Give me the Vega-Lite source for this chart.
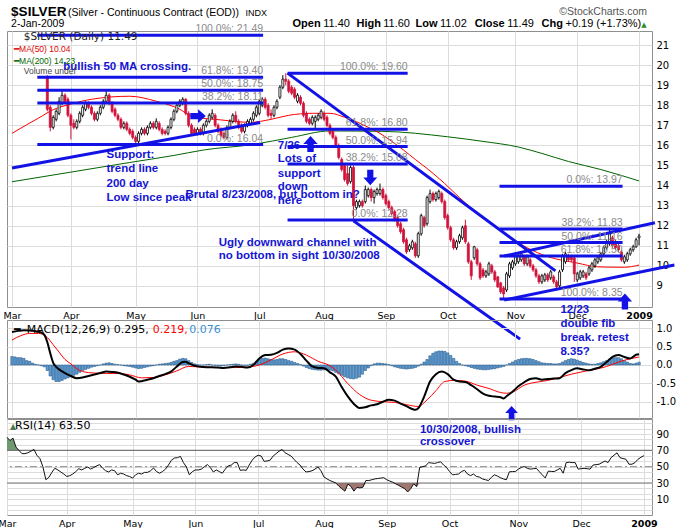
{
  "$schema": "https://vega.github.io/schema/vega-lite/v6.json",
  "background": "white",
  "padding": {"left": -3, "top": 4, "right": 0, "bottom": 0},
  "config": {
    "view": {"stroke": "#8f8f8f", "strokeWidth": 1},
    "axis": {"gridColor": "#dcdcdc", "gridWidth": 1, "labelColor": "#000000", "ticks": false, "domain": false, "labelFont": "DejaVu Sans", "labelOverlap": false},
    "axisY": {"labelOverlap": false},
    "axisRight": {"labelOverlap": false}
  },
  "datasets": {
    "candles": [
      {"i":12,"o":19.4,"h":19.5,"l":17.7,"c":17.8},{"i":13,"o":17.9,"h":18.0,"l":16.7,"c":16.9},{"i":14,"o":16.9,"h":17.5,"l":16.8,"c":17.4},{"i":15,"o":17.3,"h":17.8,"l":17.2,"c":17.7},{"i":16,"o":17.6,"h":18.4,"l":17.5,"c":18.2},{"i":17,"o":18.1,"h":18.7,"l":18.0,"c":18.5},{"i":18,"o":18.5,"h":18.6,"l":18.1,"c":18.2},{"i":19,"o":18.3,"h":18.4,"l":17.4,"c":17.5},{"i":20,"o":17.5,"h":17.6,"l":16.3,"c":17.0},{"i":21,"o":17.1,"h":17.3,"l":16.8,"c":16.9},
      {"i":22,"o":16.9,"h":17.3,"l":16.8,"c":17.2},{"i":23,"o":17.2,"h":17.7,"l":17.1,"c":17.6},{"i":24,"o":17.5,"h":18.0,"l":17.4,"c":17.9},{"i":25,"o":17.8,"h":18.2,"l":17.7,"c":18.1},{"i":26,"o":18.1,"h":18.2,"l":17.8,"c":17.9},{"i":27,"o":17.9,"h":18.0,"l":17.5,"c":17.6},{"i":28,"o":17.6,"h":17.7,"l":17.2,"c":17.3},{"i":29,"o":17.3,"h":17.7,"l":17.2,"c":17.6},{"i":30,"o":17.6,"h":18.0,"l":17.5,"c":17.9},{"i":31,"o":17.9,"h":18.3,"l":17.8,"c":18.2},
      {"i":32,"o":18.2,"h":18.7,"l":18.1,"c":18.5},{"i":33,"o":18.5,"h":18.6,"l":18.0,"c":18.1},{"i":34,"o":18.1,"h":18.2,"l":17.6,"c":17.7},{"i":35,"o":17.8,"h":17.9,"l":17.4,"c":17.5},{"i":36,"o":17.5,"h":17.6,"l":17.2,"c":17.3},{"i":37,"o":17.3,"h":17.4,"l":16.8,"c":16.9},{"i":38,"o":16.9,"h":17.2,"l":16.8,"c":17.1},{"i":39,"o":17.1,"h":17.2,"l":16.7,"c":16.8},{"i":40,"o":16.8,"h":16.9,"l":16.5,"c":16.6},{"i":41,"o":16.7,"h":16.8,"l":16.3,"c":16.4},
      {"i":42,"o":16.4,"h":16.5,"l":16.04,"c":16.2},{"i":43,"o":16.2,"h":16.7,"l":16.1,"c":16.6},{"i":44,"o":16.6,"h":16.9,"l":16.5,"c":16.8},{"i":45,"o":16.8,"h":16.9,"l":16.5,"c":16.6},{"i":46,"o":16.6,"h":17.0,"l":16.5,"c":16.9},{"i":47,"o":16.9,"h":17.2,"l":16.8,"c":17.1},{"i":48,"o":17.1,"h":17.2,"l":16.8,"c":16.9},{"i":49,"o":16.9,"h":17.35,"l":16.8,"c":17.2},{"i":50,"o":17.1,"h":17.2,"l":16.7,"c":16.8},{"i":51,"o":16.8,"h":16.9,"l":16.5,"c":16.6},
      {"i":52,"o":16.7,"h":16.8,"l":16.5,"c":16.6},{"i":53,"o":16.6,"h":17.0,"l":16.5,"c":16.9},{"i":54,"o":16.9,"h":17.4,"l":16.8,"c":17.3},{"i":55,"o":17.3,"h":17.8,"l":17.2,"c":17.7},{"i":56,"o":17.7,"h":18.1,"l":17.6,"c":18.0},{"i":57,"o":18.0,"h":18.3,"l":17.9,"c":18.2},{"i":58,"o":18.1,"h":18.4,"l":18.0,"c":18.3},{"i":59,"o":18.3,"h":18.35,"l":17.5,"c":17.6},{"i":60,"o":17.6,"h":17.7,"l":16.9,"c":17.0},{"i":61,"o":17.0,"h":17.1,"l":16.5,"c":16.6},
      {"i":62,"o":16.8,"h":16.9,"l":16.5,"c":16.6},{"i":63,"o":16.6,"h":16.9,"l":16.5,"c":16.8},{"i":64,"o":16.8,"h":16.9,"l":16.5,"c":16.6},{"i":65,"o":16.6,"h":17.1,"l":16.5,"c":17.0},{"i":66,"o":17.0,"h":17.3,"l":16.9,"c":17.2},{"i":67,"o":17.2,"h":17.6,"l":17.1,"c":17.5},{"i":68,"o":17.4,"h":17.8,"l":17.3,"c":17.6},{"i":69,"o":17.5,"h":17.6,"l":16.9,"c":17.0},{"i":70,"o":17.0,"h":17.1,"l":16.6,"c":16.7},{"i":71,"o":16.8,"h":16.9,"l":16.4,"c":16.5},
      {"i":72,"o":16.6,"h":16.7,"l":16.3,"c":16.4},{"i":73,"o":16.4,"h":17.0,"l":16.3,"c":16.9},{"i":74,"o":16.9,"h":17.3,"l":16.8,"c":17.2},{"i":75,"o":17.2,"h":17.6,"l":17.1,"c":17.5},{"i":76,"o":17.5,"h":17.7,"l":17.1,"c":17.2},{"i":77,"o":17.2,"h":17.3,"l":16.8,"c":16.9},{"i":78,"o":17.0,"h":17.1,"l":16.6,"c":16.7},{"i":79,"o":16.7,"h":17.1,"l":16.6,"c":17.0},{"i":80,"o":17.0,"h":17.3,"l":16.9,"c":17.2},{"i":81,"o":17.1,"h":17.4,"l":17.0,"c":17.3},
      {"i":82,"o":17.3,"h":17.7,"l":17.2,"c":17.6},{"i":83,"o":17.5,"h":18.0,"l":17.4,"c":17.9},{"i":84,"o":17.6,"h":18.3,"l":17.5,"c":18.2},{"i":85,"o":18.0,"h":18.4,"l":17.9,"c":18.3},{"i":86,"o":18.3,"h":18.4,"l":17.8,"c":17.9},{"i":87,"o":18.0,"h":18.1,"l":17.4,"c":17.5},{"i":88,"o":17.6,"h":17.8,"l":17.3,"c":17.5},{"i":89,"o":17.5,"h":18.0,"l":17.4,"c":17.9},{"i":90,"o":17.9,"h":18.3,"l":17.8,"c":18.2},{"i":91,"o":18.4,"h":19.0,"l":18.3,"c":18.9},
      {"i":92,"o":18.9,"h":19.5,"l":18.8,"c":19.3},{"i":93,"o":19.3,"h":19.6,"l":19.0,"c":19.2},{"i":94,"o":19.2,"h":19.3,"l":18.6,"c":18.7},{"i":95,"o":18.9,"h":19.0,"l":18.5,"c":18.6},{"i":96,"o":18.8,"h":18.9,"l":18.3,"c":18.4},{"i":97,"o":18.2,"h":18.6,"l":18.1,"c":18.5},{"i":98,"o":18.4,"h":18.5,"l":18.0,"c":18.1},{"i":99,"o":18.1,"h":18.2,"l":17.4,"c":17.5},{"i":100,"o":17.6,"h":17.7,"l":17.1,"c":17.2},{"i":101,"o":17.3,"h":17.4,"l":17.0,"c":17.1},
      {"i":102,"o":17.1,"h":17.5,"l":17.0,"c":17.4},{"i":103,"o":17.2,"h":17.5,"l":16.87,"c":17.4},{"i":104,"o":17.3,"h":17.6,"l":17.2,"c":17.5},{"i":105,"o":17.4,"h":17.8,"l":17.3,"c":17.7},{"i":106,"o":17.6,"h":17.7,"l":17.2,"c":17.3},{"i":107,"o":17.4,"h":17.5,"l":16.9,"c":17.0},{"i":108,"o":17.0,"h":17.1,"l":16.5,"c":16.6},{"i":109,"o":16.7,"h":16.8,"l":16.3,"c":16.4},{"i":110,"o":16.4,"h":16.5,"l":15.9,"c":16.0},{"i":111,"o":16.0,"h":16.1,"l":15.3,"c":15.4},
      {"i":112,"o":15.3,"h":15.4,"l":14.7,"c":14.8},{"i":113,"o":15.0,"h":15.1,"l":14.2,"c":14.3},{"i":114,"o":14.6,"h":15.0,"l":14.0,"c":14.1},{"i":115,"o":14.2,"h":15.0,"l":14.1,"c":14.9},{"i":116,"o":14.9,"h":15.0,"l":12.28,"c":13.0},{"i":117,"o":12.9,"h":13.3,"l":12.8,"c":13.2},{"i":118,"o":13.0,"h":13.3,"l":12.9,"c":13.2},{"i":119,"o":13.2,"h":13.3,"l":12.9,"c":13.0},{"i":120,"o":13.2,"h":14.0,"l":13.1,"c":13.8},{"i":121,"o":13.5,"h":13.9,"l":13.4,"c":13.8},
      {"i":122,"o":13.8,"h":13.9,"l":13.2,"c":13.4},{"i":123,"o":13.4,"h":13.8,"l":13.1,"c":13.7},{"i":124,"o":13.6,"h":13.9,"l":13.5,"c":13.8},{"i":125,"o":13.6,"h":14.1,"l":13.5,"c":13.8},{"i":126,"o":13.8,"h":13.9,"l":13.3,"c":13.4},{"i":127,"o":13.5,"h":13.6,"l":13.0,"c":13.1},{"i":128,"o":13.2,"h":13.3,"l":12.8,"c":12.9},{"i":129,"o":12.9,"h":13.0,"l":12.5,"c":12.6},{"i":130,"o":12.7,"h":12.8,"l":12.2,"c":12.3},{"i":131,"o":12.4,"h":12.5,"l":11.9,"c":12.0},
      {"i":132,"o":12.1,"h":12.2,"l":11.6,"c":11.7},{"i":133,"o":11.8,"h":11.9,"l":11.1,"c":11.2},{"i":134,"o":11.3,"h":11.4,"l":10.6,"c":10.7},{"i":135,"o":10.8,"h":11.1,"l":10.7,"c":11.0},{"i":136,"o":10.9,"h":11.3,"l":10.8,"c":11.2},{"i":137,"o":11.1,"h":11.2,"l":10.4,"c":10.5},{"i":138,"o":10.5,"h":11.7,"l":10.4,"c":11.6},{"i":139,"o":11.6,"h":12.6,"l":11.5,"c":12.5},{"i":140,"o":12.4,"h":12.5,"l":11.9,"c":12.0},{"i":141,"o":12.1,"h":13.5,"l":12.0,"c":13.4},
      {"i":142,"o":13.2,"h":13.8,"l":13.1,"c":13.6},{"i":143,"o":13.6,"h":13.7,"l":13.2,"c":13.3},{"i":144,"o":13.3,"h":13.7,"l":13.2,"c":13.6},{"i":145,"o":13.4,"h":13.8,"l":13.3,"c":13.7},{"i":146,"o":13.6,"h":13.7,"l":13.1,"c":13.2},{"i":147,"o":13.2,"h":13.3,"l":12.3,"c":12.4},{"i":148,"o":12.5,"h":12.6,"l":11.8,"c":11.9},{"i":149,"o":11.9,"h":12.0,"l":11.2,"c":11.3},{"i":150,"o":11.3,"h":11.4,"l":10.8,"c":10.9},{"i":151,"o":10.9,"h":11.3,"l":10.8,"c":11.2},
      {"i":152,"o":11.2,"h":11.6,"l":11.1,"c":11.5},{"i":153,"o":11.4,"h":12.0,"l":11.3,"c":11.9},{"i":154,"o":12.0,"h":12.3,"l":11.1,"c":11.2},{"i":155,"o":11.1,"h":11.2,"l":10.1,"c":10.2},{"i":156,"o":10.2,"h":10.3,"l":9.3,"c":9.5},{"i":157,"o":10.4,"h":11.0,"l":10.3,"c":10.95},{"i":158,"o":10.8,"h":10.9,"l":10.0,"c":10.1},{"i":159,"o":10.1,"h":10.2,"l":9.3,"c":9.4},{"i":160,"o":9.8,"h":9.9,"l":9.4,"c":9.5},{"i":161,"o":9.5,"h":9.8,"l":9.4,"c":9.7},
      {"i":162,"o":9.6,"h":10.2,"l":9.5,"c":10.1},{"i":163,"o":10.0,"h":10.1,"l":9.6,"c":9.7},{"i":164,"o":9.7,"h":9.8,"l":9.2,"c":9.3},{"i":165,"o":9.45,"h":9.5,"l":8.9,"c":8.95},{"i":166,"o":9.15,"h":9.2,"l":8.6,"c":8.7},{"i":167,"o":8.9,"h":9.0,"l":8.35,"c":8.6},{"i":168,"o":8.8,"h":9.7,"l":8.7,"c":9.6},{"i":169,"o":9.5,"h":10.2,"l":9.4,"c":10.1},{"i":170,"o":9.9,"h":10.3,"l":9.8,"c":10.2},{"i":171,"o":10.1,"h":10.55,"l":10.0,"c":10.45},
      {"i":172,"o":10.2,"h":10.6,"l":10.1,"c":10.5},{"i":173,"o":10.3,"h":10.7,"l":10.2,"c":10.6},{"i":174,"o":10.45,"h":10.55,"l":10.0,"c":10.1},{"i":175,"o":10.1,"h":10.55,"l":10.0,"c":10.45},{"i":176,"o":10.3,"h":10.4,"l":9.9,"c":10.0},{"i":177,"o":10.0,"h":10.1,"l":9.7,"c":9.8},{"i":178,"o":9.8,"h":9.9,"l":9.4,"c":9.5},{"i":179,"o":9.5,"h":9.6,"l":9.1,"c":9.2},{"i":180,"o":9.2,"h":9.6,"l":9.1,"c":9.5},{"i":181,"o":9.3,"h":9.65,"l":9.2,"c":9.55},
      {"i":182,"o":9.55,"h":9.65,"l":9.2,"c":9.3},{"i":183,"o":9.4,"h":9.8,"l":9.3,"c":9.7},{"i":184,"o":9.45,"h":9.55,"l":9.1,"c":9.2},{"i":185,"o":9.2,"h":9.3,"l":8.85,"c":8.95},{"i":186,"o":9.0,"h":9.8,"l":8.9,"c":9.7},{"i":187,"o":9.8,"h":10.6,"l":9.7,"c":10.5},{"i":188,"o":10.2,"h":10.7,"l":10.1,"c":10.6},{"i":189,"o":10.5,"h":10.6,"l":10.2,"c":10.3},{"i":190,"o":10.45,"h":10.55,"l":10.2,"c":10.3},{"i":191,"o":10.4,"h":10.5,"l":9.2,"c":9.6},
      {"i":192,"o":9.3,"h":9.7,"l":9.2,"c":9.6},{"i":193,"o":9.4,"h":9.8,"l":9.3,"c":9.7},{"i":194,"o":9.5,"h":9.8,"l":9.4,"c":9.7},{"i":195,"o":9.6,"h":9.7,"l":9.3,"c":9.4},{"i":196,"o":9.6,"h":10.0,"l":9.5,"c":9.9},{"i":197,"o":9.8,"h":10.2,"l":9.7,"c":10.1},{"i":198,"o":10.0,"h":10.4,"l":9.9,"c":10.3},{"i":199,"o":10.2,"h":10.5,"l":10.1,"c":10.4},{"i":200,"o":10.3,"h":10.7,"l":10.2,"c":10.6},{"i":201,"o":10.6,"h":11.0,"l":10.5,"c":10.9},
      {"i":202,"o":10.9,"h":11.3,"l":10.8,"c":11.2},{"i":203,"o":11.1,"h":11.9,"l":11.0,"c":11.6},{"i":204,"o":11.4,"h":11.5,"l":10.9,"c":11.0},{"i":205,"o":11.2,"h":11.3,"l":10.8,"c":10.9},{"i":206,"o":11.0,"h":11.1,"l":10.7,"c":10.8},{"i":207,"o":10.7,"h":10.8,"l":10.2,"c":10.3},{"i":208,"o":10.2,"h":10.55,"l":10.1,"c":10.45},{"i":209,"o":10.3,"h":10.7,"l":10.2,"c":10.6},{"i":210,"o":10.6,"h":10.9,"l":10.5,"c":10.8},{"i":211,"o":10.8,"h":11.05,"l":10.7,"c":10.95},
      {"i":212,"o":10.95,"h":11.4,"l":10.9,"c":11.3},{"i":213,"o":11.4,"h":11.6,"l":11.02,"c":11.49}
    ],
    "ma200": [{"i":0,"v":14.19},{"i":20,"v":14.67},{"i":40,"v":15.15},{"i":55,"v":15.5},{"i":65,"v":15.77},{"i":82,"v":16.05},{"i":95,"v":16.4},{"i":108,"v":16.72},{"i":126,"v":16.7},{"i":148,"v":16.43},{"i":160,"v":16.2},{"i":172,"v":15.92},{"i":180,"v":15.6},{"i":189,"v":15.2},{"i":200,"v":14.8},{"i":213,"v":14.23}],
    "ma50": [{"i":0,"v":16.6},{"i":5,"v":17.03},{"i":9,"v":17.36},{"i":14,"v":17.78},{"i":20,"v":18.06},{"i":27,"v":18.3},{"i":40,"v":18.45},{"i":49,"v":18.2},{"i":57,"v":17.8},{"i":61,"v":17.45},{"i":71,"v":17.27},{"i":81,"v":17.15},{"i":88,"v":17.3},{"i":94,"v":17.5},{"i":102,"v":17.6},{"i":108,"v":17.6},{"i":113,"v":17.4},{"i":117,"v":17.18},{"i":121,"v":16.9},{"i":125,"v":16.6},{"i":129,"v":16.2},{"i":133,"v":15.77},{"i":137,"v":15.3},{"i":141,"v":14.85},{"i":147,"v":14.1},{"i":152,"v":13.4},{"i":157,"v":12.75},{"i":163,"v":12.1},{"i":168,"v":11.55},{"i":175,"v":10.9},{"i":182,"v":10.46},{"i":192,"v":10.14},{"i":199,"v":9.95},{"i":208,"v":9.93},{"i":213,"v":10.04}],
    "blines": [
      {"i1":8.6,"p1":21.49,"i2":85.3,"p2":21.49},{"i1":8.6,"p1":19.40,"i2":85.3,"p2":19.40},{"i1":8.6,"p1":18.75,"i2":85.3,"p2":18.75},{"i1":8.6,"p1":18.11,"i2":85.3,"p2":18.11},{"i1":8.6,"p1":16.04,"i2":85.3,"p2":16.04},
      {"i1":93.6,"p1":19.60,"i2":134.4,"p2":19.60},{"i1":93.6,"p1":16.80,"i2":134.4,"p2":16.80},{"i1":93.6,"p1":15.94,"i2":134.4,"p2":15.94},{"i1":93.6,"p1":15.08,"i2":134.4,"p2":15.08},{"i1":93.6,"p1":12.28,"i2":134.4,"p2":12.28},
      {"i1":165.6,"p1":13.97,"i2":207.4,"p2":13.97},{"i1":165.6,"p1":11.83,"i2":207.4,"p2":11.83},{"i1":165.6,"p1":11.16,"i2":207.4,"p2":11.16},{"i1":165.6,"p1":10.49,"i2":207.4,"p2":10.49},{"i1":165.6,"p1":8.35,"i2":207.4,"p2":8.35},
      {"i1":0,"p1":14.87,"i2":84.3,"p2":17.14},
      {"i1":93.6,"p1":19.60,"i2":184.6,"p2":9.75},
      {"i1":116,"p1":12.24,"i2":172.6,"p2":6.35},
      {"i1":167.2,"p1":8.30,"i2":225,"p2":10.04},
      {"i1":167.2,"p1":10.49,"i2":218.4,"p2":12.15}
    ],
    "fibl": [
      {"t":"100.0%: 21.49","i":85.3,"p":21.49},{"t":"61.8%: 19.40","i":85.3,"p":19.40},{"t":"50.0%: 18.75","i":85.3,"p":18.75},{"t":"38.2%: 18.11","i":85.3,"p":18.11},{"t":"0.0%: 16.04","i":85.3,"p":16.04},
      {"t":"100.0%: 19.60","i":134.4,"p":19.60},{"t":"61.8%: 16.80","i":134.4,"p":16.80},{"t":"50.0%: 15.94","i":134.4,"p":15.94},{"t":"38.2%: 15.08","i":134.4,"p":15.08},{"t":"0.0%: 12.28","i":134.4,"p":12.28},
      {"t":"0.0%: 13.97","i":207.4,"p":13.97},{"t":"38.2%: 11.83","i":207.4,"p":11.83},{"t":"50.0%: 11.16","i":207.4,"p":11.16},{"t":"61.8%: 10.50","i":207.4,"p":10.49},{"t":"100.0%: 8.35","i":207.4,"p":8.35}
    ],
    "notes": [
      {"t":"bullish 50 MA crossing.","i":17.4,"p":19.755},
      {"t":"Support:","i":32.1,"p":15.39},{"t":"trend line","i":32.1,"p":14.66},{"t":"200 day","i":32.1,"p":13.94},{"t":"Low since peak","i":32.1,"p":13.25},
      {"t":"Brutal 8/23/2008, but bottom in?","i":58.9,"p":13.40},
      {"t":"7/26","i":90.3,"p":15.81},{"t":"Lots of","i":90.3,"p":15.16},{"t":"support","i":90.3,"p":14.44},{"t":"down","i":90.3,"p":13.78},{"t":"here","i":90.3,"p":13.07},
      {"t":"Ugly downward channel with","i":70.2,"p":11.0},{"t":"no bottom in sight 10/30/2008","i":70.2,"p":10.33}
    ],
    "arrUp": [{"i":101.4,"p":16.07},{"i":208.2,"p":8.23}],
    "arrDown": [{"i":121.7,"p":14.4}],
    "arrRight": [{"i":63.2,"p":17.46}],
    "legS": [{"t":"$SILVER (Daily) 11.49","i":4.0,"p":21.26}],
    "leg50": [{"t":"━MA(50) 10.04","i":0.7,"p":20.65}],
    "leg200": [{"t":"━MA(200) 14.23","i":0.7,"p":20.07}],
    "legV": [{"t":"Volume undef","i":4.0,"p":19.56}],
    "hdrBig": [{"t":"$SILVER","i":-0.3,"p":22.46}],
    "hdrSub": [{"t":"(Silver - Continuous Contract (EOD))","i":19.0,"p":22.46}],
    "hdrIndx": [{"t":"INDX","i":79.3,"p":22.46}],
    "hdrDate": [{"t":"2-Jan-2009","i":-0.3,"p":21.88}],
    "hdrCopy": [{"t":"©StockCharts.com","i":215.7,"p":22.49}],
    "hdrLab": [{"t":"Open","i":95.3,"p":21.88},{"t":"High","i":117.0,"p":21.88},{"t":"Low","i":137.1,"p":21.88},{"t":"Close","i":157.2,"p":21.88},{"t":"Chg","i":179.9,"p":21.88}],
    "hdrVal": [{"t":"11.40","i":105.7,"p":21.88},{"t":"11.60","i":126.1,"p":21.88},{"t":"11.02","i":145.4,"p":21.88},{"t":"11.49","i":168.2,"p":21.88},{"t":"+0.19 (+1.73%)","i":188.0,"p":21.88}],
    "hdrTri": [{"t":"▲","i":214.7,"p":21.9}],
    "hist": [
      {"i":0,"hg":0.23},{"i":1,"hg":0.22},{"i":2,"hg":0.2},{"i":3,"hg":0.2},{"i":4,"hg":0.18},{"i":5,"hg":0.12},{"i":6,"hg":0.1},{"i":7,"hg":0.05},{"i":8,"hg":0.02},{"i":9,"hg":0.0},
      {"i":10,"hg":-0.02},{"i":11,"hg":-0.05},{"i":12,"hg":-0.15},{"i":13,"hg":-0.3},{"i":14,"hg":-0.4},{"i":15,"hg":-0.45},{"i":16,"hg":-0.45},{"i":17,"hg":-0.42},{"i":18,"hg":-0.38},{"i":19,"hg":-0.35},
      {"i":20,"hg":-0.32},{"i":21,"hg":-0.28},{"i":22,"hg":-0.25},{"i":23,"hg":-0.2},{"i":24,"hg":-0.15},{"i":25,"hg":-0.12},{"i":26,"hg":-0.09},{"i":27,"hg":-0.06},{"i":28,"hg":-0.04},{"i":29,"hg":-0.02},
      {"i":30,"hg":0.0},{"i":31,"hg":0.03},{"i":32,"hg":0.05},{"i":33,"hg":0.06},{"i":34,"hg":0.04},{"i":35,"hg":0.02},{"i":36,"hg":0.01},{"i":37,"hg":0.0},{"i":38,"hg":-0.02},{"i":39,"hg":-0.03},
      {"i":40,"hg":-0.04},{"i":41,"hg":-0.06},{"i":42,"hg":-0.08},{"i":43,"hg":-0.1},{"i":44,"hg":-0.09},{"i":45,"hg":-0.07},{"i":46,"hg":-0.05},{"i":47,"hg":-0.03},{"i":48,"hg":-0.02},{"i":49,"hg":0.0},
      {"i":50,"hg":0.02},{"i":51,"hg":0.03},{"i":52,"hg":0.04},{"i":53,"hg":0.05},{"i":54,"hg":0.07},{"i":55,"hg":0.1},{"i":56,"hg":0.12},{"i":57,"hg":0.16},{"i":58,"hg":0.18},{"i":59,"hg":0.17},
      {"i":60,"hg":0.12},{"i":61,"hg":0.07},{"i":62,"hg":0.03},{"i":63,"hg":0.01},{"i":64,"hg":0.0},{"i":65,"hg":0.0},{"i":66,"hg":0.01},{"i":67,"hg":0.02},{"i":68,"hg":0.0},{"i":69,"hg":-0.01},
      {"i":70,"hg":-0.02},{"i":71,"hg":-0.03},{"i":72,"hg":-0.02},{"i":73,"hg":0.0},{"i":74,"hg":0.01},{"i":75,"hg":0.02},{"i":76,"hg":0.03},{"i":77,"hg":0.02},{"i":78,"hg":0.0},{"i":79,"hg":-0.01},
      {"i":80,"hg":-0.01},{"i":81,"hg":0.02},{"i":82,"hg":0.05},{"i":83,"hg":0.1},{"i":84,"hg":0.15},{"i":85,"hg":0.18},{"i":86,"hg":0.19},{"i":87,"hg":0.17},{"i":88,"hg":0.15},{"i":89,"hg":0.14},
      {"i":90,"hg":0.15},{"i":91,"hg":0.17},{"i":92,"hg":0.17},{"i":93,"hg":0.15},{"i":94,"hg":0.12},{"i":95,"hg":0.1},{"i":96,"hg":0.07},{"i":97,"hg":0.04},{"i":98,"hg":0.01},{"i":99,"hg":-0.03},
      {"i":100,"hg":-0.07},{"i":101,"hg":-0.1},{"i":102,"hg":-0.12},{"i":103,"hg":-0.13},{"i":104,"hg":-0.14},{"i":105,"hg":-0.14},{"i":106,"hg":-0.13},{"i":107,"hg":-0.12},{"i":108,"hg":-0.14},{"i":109,"hg":-0.16},
      {"i":110,"hg":-0.2},{"i":111,"hg":-0.24},{"i":112,"hg":-0.28},{"i":113,"hg":-0.32},{"i":114,"hg":-0.35},{"i":115,"hg":-0.37},{"i":116,"hg":-0.38},{"i":117,"hg":-0.36},{"i":118,"hg":-0.33},{"i":119,"hg":-0.25},
      {"i":120,"hg":-0.15},{"i":121,"hg":-0.08},{"i":122,"hg":-0.02},{"i":123,"hg":0.03},{"i":124,"hg":0.05},{"i":125,"hg":0.05},{"i":126,"hg":0.04},{"i":127,"hg":0.03},{"i":128,"hg":0.01},{"i":129,"hg":-0.02},
      {"i":130,"hg":-0.05},{"i":131,"hg":-0.07},{"i":132,"hg":-0.09},{"i":133,"hg":-0.1},{"i":134,"hg":-0.11},{"i":135,"hg":-0.1},{"i":136,"hg":-0.09},{"i":137,"hg":-0.07},{"i":138,"hg":-0.03},{"i":139,"hg":0.02},
      {"i":140,"hg":0.08},{"i":141,"hg":0.15},{"i":142,"hg":0.25},{"i":143,"hg":0.32},{"i":144,"hg":0.36},{"i":145,"hg":0.38},{"i":146,"hg":0.38},{"i":147,"hg":0.37},{"i":148,"hg":0.33},{"i":149,"hg":0.26},
      {"i":150,"hg":0.18},{"i":151,"hg":0.1},{"i":152,"hg":0.04},{"i":153,"hg":0.0},{"i":154,"hg":-0.02},{"i":155,"hg":-0.04},{"i":156,"hg":-0.07},{"i":157,"hg":-0.09},{"i":158,"hg":-0.11},{"i":159,"hg":-0.12},
      {"i":160,"hg":-0.13},{"i":161,"hg":-0.13},{"i":162,"hg":-0.12},{"i":163,"hg":-0.11},{"i":164,"hg":-0.1},{"i":165,"hg":-0.08},{"i":166,"hg":-0.06},{"i":167,"hg":-0.04},{"i":168,"hg":0.0},{"i":169,"hg":0.04},
      {"i":170,"hg":0.08},{"i":171,"hg":0.12},{"i":172,"hg":0.15},{"i":173,"hg":0.17},{"i":174,"hg":0.18},{"i":175,"hg":0.18},{"i":176,"hg":0.17},{"i":177,"hg":0.15},{"i":178,"hg":0.12},{"i":179,"hg":0.09},
      {"i":180,"hg":0.06},{"i":181,"hg":0.05},{"i":182,"hg":0.04},{"i":183,"hg":0.04},{"i":184,"hg":0.03},{"i":185,"hg":0.03},{"i":186,"hg":0.04},{"i":187,"hg":0.08},{"i":188,"hg":0.12},{"i":189,"hg":0.15},
      {"i":190,"hg":0.17},{"i":191,"hg":0.16},{"i":192,"hg":0.13},{"i":193,"hg":0.1},{"i":194,"hg":0.07},{"i":195,"hg":0.05},{"i":196,"hg":0.03},{"i":197,"hg":0.02},{"i":198,"hg":0.02},{"i":199,"hg":0.04},
      {"i":200,"hg":0.06},{"i":201,"hg":0.09},{"i":202,"hg":0.12},{"i":203,"hg":0.16},{"i":204,"hg":0.19},{"i":205,"hg":0.2},{"i":206,"hg":0.2},{"i":207,"hg":0.17},{"i":208,"hg":0.12},{"i":209,"hg":0.08},
      {"i":210,"hg":0.04},{"i":211,"hg":0.03},{"i":212,"hg":0.05},{"i":213,"hg":0.076}
    ],
    "macd": [
      {"i":0,"m":0.9},{"i":2,"m":0.93},{"i":4,"m":0.95},{"i":6,"m":0.94},{"i":8,"m":0.92},{"i":10,"m":0.88},{"i":11,"m":0.82},{"i":12,"m":0.62},{"i":13,"m":0.32},{"i":14,"m":0.06},{"i":15,"m":-0.05},{"i":16,"m":-0.12},{"i":18,"m":-0.22},{"i":20,"m":-0.3},{"i":22,"m":-0.36},{"i":24,"m":-0.34},{"i":26,"m":-0.3},{"i":28,"m":-0.26},{"i":30,"m":-0.22},{"i":32,"m":-0.18},{"i":34,"m":-0.19},{"i":36,"m":-0.21},{"i":38,"m":-0.26},{"i":40,"m":-0.32},{"i":42,"m":-0.4},{"i":43,"m":-0.45},{"i":44,"m":-0.44},{"i":46,"m":-0.4},{"i":48,"m":-0.36},{"i":50,"m":-0.3},{"i":52,"m":-0.25},{"i":54,"m":-0.18},{"i":56,"m":-0.04},{"i":58,"m":0.08},{"i":59,"m":0.09},{"i":60,"m":0.05},{"i":62,"m":-0.02},{"i":64,"m":-0.05},{"i":66,"m":-0.06},{"i":68,"m":-0.06},{"i":70,"m":-0.07},{"i":72,"m":-0.08},{"i":74,"m":-0.06},{"i":76,"m":-0.04},{"i":78,"m":-0.05},{"i":80,"m":-0.07},{"i":82,"m":0.0},{"i":84,"m":0.18},{"i":86,"m":0.27},{"i":88,"m":0.28},{"i":90,"m":0.33},{"i":92,"m":0.42},{"i":94,"m":0.45},{"i":96,"m":0.42},{"i":98,"m":0.3},{"i":100,"m":0.12},{"i":102,"m":-0.04},{"i":104,"m":-0.08},{"i":106,"m":-0.09},{"i":108,"m":-0.2},{"i":110,"m":-0.32},{"i":112,"m":-0.6},{"i":114,"m":-0.85},{"i":116,"m":-1.05},{"i":118,"m":-1.17},{"i":120,"m":-1.15},{"i":122,"m":-1.1},{"i":124,"m":-1.07},{"i":126,"m":-1.0},{"i":128,"m":-0.95},{"i":130,"m":-0.97},{"i":132,"m":-1.05},{"i":134,"m":-1.12},{"i":136,"m":-1.2},{"i":137,"m":-1.22},{"i":138,"m":-1.18},{"i":140,"m":-0.86},{"i":142,"m":-0.45},{"i":144,"m":-0.25},{"i":146,"m":-0.18},{"i":148,"m":-0.25},{"i":150,"m":-0.4},{"i":152,"m":-0.45},{"i":154,"m":-0.46},{"i":156,"m":-0.55},{"i":158,"m":-0.66},{"i":160,"m":-0.78},{"i":162,"m":-0.84},{"i":164,"m":-0.86},{"i":166,"m":-0.88},{"i":167,"m":-0.91},{"i":168,"m":-0.85},{"i":170,"m":-0.73},{"i":172,"m":-0.58},{"i":174,"m":-0.47},{"i":176,"m":-0.38},{"i":178,"m":-0.36},{"i":180,"m":-0.4},{"i":182,"m":-0.38},{"i":184,"m":-0.37},{"i":186,"m":-0.36},{"i":188,"m":-0.22},{"i":190,"m":-0.14},{"i":192,"m":-0.09},{"i":194,"m":-0.12},{"i":196,"m":-0.14},{"i":198,"m":-0.1},{"i":200,"m":-0.05},{"i":202,"m":0.08},{"i":204,"m":0.22},{"i":206,"m":0.27},{"i":208,"m":0.22},{"i":210,"m":0.18},{"i":212,"m":0.28},{"i":213,"m":0.295}
    ],
    "sig": [
      {"i":0,"s":0.68},{"i":3,"s":0.8},{"i":6,"s":0.86},{"i":9,"s":0.86},{"i":12,"s":0.75},{"i":14,"s":0.55},{"i":16,"s":0.35},{"i":18,"s":0.15},{"i":20,"s":0.03},{"i":22,"s":-0.1},{"i":24,"s":-0.18},{"i":28,"s":-0.22},{"i":32,"s":-0.23},{"i":36,"s":-0.23},{"i":40,"s":-0.27},{"i":44,"s":-0.35},{"i":48,"s":-0.34},{"i":52,"s":-0.27},{"i":56,"s":-0.16},{"i":60,"s":-0.04},{"i":64,"s":-0.05},{"i":70,"s":-0.07},{"i":76,"s":-0.07},{"i":80,"s":-0.06},{"i":84,"s":0.0},{"i":88,"s":0.14},{"i":92,"s":0.3},{"i":96,"s":0.36},{"i":100,"s":0.27},{"i":104,"s":0.1},{"i":108,"s":-0.02},{"i":110,"s":-0.14},{"i":114,"s":-0.5},{"i":118,"s":-0.8},{"i":122,"s":-0.96},{"i":126,"s":-1.0},{"i":130,"s":-1.02},{"i":134,"s":-1.08},{"i":138,"s":-1.13},{"i":141,"s":-0.95},{"i":144,"s":-0.7},{"i":147,"s":-0.45},{"i":150,"s":-0.42},{"i":154,"s":-0.44},{"i":158,"s":-0.55},{"i":162,"s":-0.64},{"i":166,"s":-0.75},{"i":168,"s":-0.77},{"i":170,"s":-0.74},{"i":174,"s":-0.55},{"i":178,"s":-0.47},{"i":182,"s":-0.42},{"i":186,"s":-0.34},{"i":190,"s":-0.25},{"i":194,"s":-0.18},{"i":198,"s":-0.12},{"i":202,"s":-0.04},{"i":206,"s":0.08},{"i":210,"s":0.17},{"i":213,"s":0.219}
    ],
    "mlegDash": [{"t":"━","i":0.67,"m":0.872}],
    "mlegA": [{"t":"MACD(12,26,9) 0.295,","i":5.0,"m":0.872}],
    "mlegB": [{"t":"0.219,","i":47.8,"m":0.872}],
    "mlegC": [{"t":"0.076","i":60.2,"m":0.872}],
    "mnotes": [{"t":"12/23","i":186.3,"m":1.41},{"t":"double fib","i":186.3,"m":1.027},{"t":"break. retest","i":186.3,"m":0.654},{"t":"8.35?","i":186.3,"m":0.272}],
    "marr": [{"i":169.7,"m":-1.31}],
    "rnotes": [{"t":"10/30/2008, bullish","i":138.1,"r":91.7},{"t":"crossover","i":138.1,"r":76.1}],
    "rsi": [
      {"i":0,"r":86},{"i":1,"r":82},{"i":2,"r":85},{"i":3,"r":74},{"i":4,"r":70},{"i":5,"r":66},{"i":6,"r":66},{"i":7,"r":67},{"i":8,"r":69},{"i":9,"r":71},
      {"i":10,"r":64},{"i":11,"r":60},{"i":12,"r":50},{"i":13,"r":34},{"i":14,"r":37},{"i":15,"r":43},{"i":16,"r":48},{"i":17,"r":46},{"i":18,"r":43.5},{"i":19,"r":41},
      {"i":20,"r":38},{"i":21,"r":39},{"i":22,"r":41},{"i":23,"r":44},{"i":24,"r":47.5},{"i":25,"r":46},{"i":26,"r":48},{"i":27,"r":49.6},{"i":28,"r":47},{"i":29,"r":49},
      {"i":30,"r":51},{"i":31,"r":52.5},{"i":32,"r":48},{"i":33,"r":45},{"i":34,"r":43.5},{"i":35,"r":46},{"i":36,"r":45},{"i":37,"r":40},{"i":38,"r":42},{"i":39,"r":41},
      {"i":40,"r":39},{"i":41,"r":38},{"i":42,"r":36},{"i":43,"r":40},{"i":44,"r":42},{"i":45,"r":41},{"i":46,"r":43},{"i":47,"r":43},{"i":48,"r":45},{"i":49,"r":48.4},
      {"i":50,"r":44},{"i":51,"r":42},{"i":52,"r":44},{"i":53,"r":47},{"i":54,"r":52},{"i":55,"r":58},{"i":56,"r":60.6},{"i":57,"r":61},{"i":58,"r":62.6},{"i":59,"r":55},
      {"i":60,"r":49.6},{"i":61,"r":40},{"i":62,"r":44},{"i":63,"r":46},{"i":64,"r":46},{"i":65,"r":47},{"i":66,"r":50},{"i":67,"r":52.5},{"i":68,"r":49},{"i":69,"r":43.5},
      {"i":70,"r":46},{"i":71,"r":44},{"i":72,"r":42},{"i":73,"r":47},{"i":74,"r":51},{"i":75,"r":52},{"i":76,"r":55},{"i":77,"r":55},{"i":78,"r":45.5},{"i":79,"r":46},
      {"i":80,"r":45.5},{"i":81,"r":52},{"i":82,"r":58},{"i":83,"r":62},{"i":84,"r":64},{"i":85,"r":63},{"i":86,"r":56.5},{"i":87,"r":57},{"i":88,"r":58},{"i":89,"r":63},
      {"i":90,"r":66},{"i":91,"r":69},{"i":92,"r":71},{"i":93,"r":67},{"i":94,"r":65},{"i":95,"r":63},{"i":96,"r":59},{"i":97,"r":55},{"i":98,"r":52},{"i":99,"r":47},
      {"i":100,"r":43.5},{"i":101,"r":44},{"i":102,"r":45},{"i":103,"r":47},{"i":104,"r":49.6},{"i":105,"r":45},{"i":106,"r":37.4},{"i":107,"r":35},{"i":108,"r":33},{"i":109,"r":31.5},
      {"i":110,"r":30},{"i":111,"r":26},{"i":112,"r":23},{"i":113,"r":20},{"i":114,"r":28.6},{"i":115,"r":26},{"i":116,"r":20},{"i":117,"r":24.7},{"i":118,"r":24},{"i":119,"r":24.7},
      {"i":120,"r":33},{"i":121,"r":33},{"i":122,"r":34},{"i":123,"r":35},{"i":124,"r":35.5},{"i":125,"r":36},{"i":126,"r":36.5},{"i":127,"r":34},{"i":128,"r":32.4},{"i":129,"r":31},
      {"i":130,"r":29},{"i":131,"r":27},{"i":132,"r":25},{"i":133,"r":23},{"i":134,"r":19},{"i":135,"r":23},{"i":136,"r":29},{"i":137,"r":25.5},{"i":138,"r":49},{"i":139,"r":50},
      {"i":140,"r":51},{"i":141,"r":55},{"i":142,"r":54.5},{"i":143,"r":54},{"i":144,"r":55},{"i":145,"r":56},{"i":146,"r":52},{"i":147,"r":49},{"i":148,"r":44},{"i":149,"r":40},
      {"i":150,"r":40.5},{"i":151,"r":41},{"i":152,"r":44},{"i":153,"r":45.6},{"i":154,"r":41},{"i":155,"r":39},{"i":156,"r":41},{"i":157,"r":38},{"i":158,"r":37.2},{"i":159,"r":35},
      {"i":160,"r":34},{"i":161,"r":33},{"i":162,"r":37},{"i":163,"r":40},{"i":164,"r":38.5},{"i":165,"r":36.5},{"i":166,"r":35},{"i":167,"r":34},{"i":168,"r":43.7},{"i":169,"r":44},
      {"i":170,"r":44},{"i":171,"r":47},{"i":172,"r":49},{"i":173,"r":50.3},{"i":174,"r":48},{"i":175,"r":47},{"i":176,"r":47.5},{"i":177,"r":48},{"i":178,"r":44},{"i":179,"r":40},
      {"i":180,"r":36.2},{"i":181,"r":44.5},{"i":182,"r":44.2},{"i":183,"r":44},{"i":184,"r":46},{"i":185,"r":48},{"i":186,"r":42},{"i":187,"r":55},{"i":188,"r":55.5},{"i":189,"r":55},
      {"i":190,"r":55},{"i":191,"r":47},{"i":192,"r":47.5},{"i":193,"r":48},{"i":194,"r":47.5},{"i":195,"r":47},{"i":196,"r":52},{"i":197,"r":52.5},{"i":198,"r":53},{"i":199,"r":55},
      {"i":200,"r":57},{"i":201,"r":55},{"i":202,"r":61},{"i":203,"r":64},{"i":204,"r":67},{"i":205,"r":61},{"i":206,"r":60},{"i":207,"r":59},{"i":208,"r":53},{"i":209,"r":53},
      {"i":210,"r":55},{"i":211,"r":59},{"i":212,"r":61.5},{"i":213,"r":63.5}
    ],
    "rlev": [{"v":70},{"v":30}],
    "rmid": [{"v":50}],
    "rlegIcon": [{"t":"▲","i":1.0,"r":95.7}],
    "rleg": [{"t":"RSI(14) 63.50","i":2.7,"r":95.7}]
  },
  "spacing": 13,
  "bounds": "flush",
  "vconcat": [
    {
      "width": 645,
      "height": 276,
      "layer": [
        {
          "data": {"name": "ma200"},
          "mark": {"type": "line", "color": "#006400", "strokeWidth": 1, "interpolate": "monotone"},
          "encoding": {
            "x": {"field": "i", "type": "quantitative", "title": null, "scale": {"domain": [0, 215.7], "nice": false, "zero": false},
              "axis": {"values": [0,20,42,63,84,106,127,148,171,192,213], "labelExpr": "['Mar','Apr','May','Jun','Jul','Aug','Sep','Oct','Nov','Dec','2009'][indexof([0,20,42,63,84,106,127,148,171,192,213], datum.value)]", "grid": true, "labelPadding": 3, "labelFlush": false, "labelOverlap": false, "labelFontSize": 9.5, "labelFontWeight": {"condition": {"test": "datum.value == 213", "value": "bold"}, "value": "normal"}}},
            "y": {"field": "v", "type": "quantitative", "title": null, "scale": {"domain": [7.95, 21.7], "nice": false, "zero": false},
              "axis": {"orient": "right", "values": [9,10,11,12,13,14,15,16,17,18,19,20,21], "tickCount": 14, "grid": true, "labelPadding": 4, "labelFontSize": 10, "labelOverlap": false, "labelFlush": false}}
          }
        },
        {
          "data": {"name": "ma50"},
          "mark": {"type": "line", "color": "#ff0000", "strokeWidth": 1, "interpolate": "monotone"},
          "encoding": {"x": {"field": "i", "type": "quantitative", "title": null}, "y": {"field": "v", "type": "quantitative", "title": null}}
        },
        {
          "data": {"name": "candles"},
          "mark": {"type": "rule", "strokeWidth": 1},
          "encoding": {
            "x": {"field": "i", "type": "quantitative", "title": null},
            "y": {"field": "l", "type": "quantitative", "title": null},
            "y2": {"field": "h"},
            "color": {"condition": {"test": "datum.c >= datum.o", "value": "#000000"}, "value": "#d1143c"}
          }
        },
        {
          "data": {"name": "candles"},
          "mark": {"type": "bar", "size": 2, "strokeWidth": 0.8},
          "encoding": {
            "x": {"field": "i", "type": "quantitative", "title": null},
            "y": {"field": "o", "type": "quantitative", "title": null},
            "y2": {"field": "c"},
            "fill": {"condition": {"test": "datum.c >= datum.o", "value": "#ffffff"}, "value": "#d1143c"},
            "stroke": {"condition": {"test": "datum.c >= datum.o", "value": "#000000"}, "value": "#d1143c"}
          }
        },
        {
          "data": {"name": "blines"},
          "mark": {"type": "rule", "color": "#1212e6", "strokeWidth": 3},
          "encoding": {
            "x": {"field": "i1", "type": "quantitative", "title": null},
            "y": {"field": "p1", "type": "quantitative", "title": null},
            "x2": {"field": "i2"},
            "y2": {"field": "p2"}
          }
        },
        {
          "data": {"name": "fibl"},
          "mark": {"type": "text", "align": "right", "baseline": "alphabetic", "dy": -3, "font": "Liberation Sans", "fontSize": 10.5, "color": "#8a8a8a"},
          "encoding": {"x": {"field": "i", "type": "quantitative", "title": null}, "y": {"field": "p", "type": "quantitative", "title": null}, "text": {"field": "t"}}
        },
        {
          "data": {"name": "notes"},
          "mark": {"type": "text", "align": "left", "baseline": "alphabetic", "font": "Liberation Sans", "fontWeight": "bold", "fontSize": 11.5, "color": "#1414d4"},
          "encoding": {"x": {"field": "i", "type": "quantitative", "title": null}, "y": {"field": "p", "type": "quantitative", "title": null}, "text": {"field": "t"}}
        },
        {
          "data": {"name": "arrUp"},
          "mark": {"type": "point", "shape": "M0,-1L0.9,0L0.4,0L0.4,1L-0.4,1L-0.4,0L-0.9,0Z", "size": 256, "filled": true, "color": "#1212e6", "opacity": 1},
          "encoding": {"x": {"field": "i", "type": "quantitative", "title": null}, "y": {"field": "p", "type": "quantitative", "title": null}}
        },
        {
          "data": {"name": "arrDown"},
          "mark": {"type": "point", "shape": "M0,1L0.9,0L0.4,0L0.4,-1L-0.4,-1L-0.4,0L-0.9,0Z", "size": 240, "filled": true, "color": "#1212e6", "opacity": 1},
          "encoding": {"x": {"field": "i", "type": "quantitative", "title": null}, "y": {"field": "p", "type": "quantitative", "title": null}}
        },
        {
          "data": {"name": "arrRight"},
          "mark": {"type": "point", "shape": "M1,0L0,-0.9L0,-0.4L-1,-0.4L-1,0.4L0,0.4L0,0.9Z", "size": 240, "filled": true, "color": "#1212e6", "opacity": 1},
          "encoding": {"x": {"field": "i", "type": "quantitative", "title": null}, "y": {"field": "p", "type": "quantitative", "title": null}}
        },
        {
          "data": {"name": "legS"},
          "mark": {"type": "text", "align": "left", "baseline": "alphabetic", "font": "DejaVu Sans", "fontSize": 10.5, "color": "#222222"},
          "encoding": {"x": {"field": "i", "type": "quantitative", "title": null}, "y": {"field": "p", "type": "quantitative", "title": null}, "text": {"field": "t"}}
        },
        {
          "data": {"name": "leg50"},
          "mark": {"type": "text", "align": "left", "baseline": "alphabetic", "font": "Liberation Sans", "fontSize": 8.5, "color": "#e00000"},
          "encoding": {"x": {"field": "i", "type": "quantitative", "title": null}, "y": {"field": "p", "type": "quantitative", "title": null}, "text": {"field": "t"}}
        },
        {
          "data": {"name": "leg200"},
          "mark": {"type": "text", "align": "left", "baseline": "alphabetic", "font": "Liberation Sans", "fontSize": 8.5, "color": "#006400"},
          "encoding": {"x": {"field": "i", "type": "quantitative", "title": null}, "y": {"field": "p", "type": "quantitative", "title": null}, "text": {"field": "t"}}
        },
        {
          "data": {"name": "legV"},
          "mark": {"type": "text", "align": "left", "baseline": "alphabetic", "font": "Liberation Sans", "fontSize": 8.5, "color": "#444444"},
          "encoding": {"x": {"field": "i", "type": "quantitative", "title": null}, "y": {"field": "p", "type": "quantitative", "title": null}, "text": {"field": "t"}}
        },
        {
          "data": {"name": "hdrBig"},
          "mark": {"type": "text", "align": "left", "baseline": "alphabetic", "font": "Liberation Sans", "fontWeight": "bold", "fontSize": 13.5, "color": "#000000"},
          "encoding": {"x": {"field": "i", "type": "quantitative", "title": null}, "y": {"field": "p", "type": "quantitative", "title": null}, "text": {"field": "t"}}
        },
        {
          "data": {"name": "hdrSub"},
          "mark": {"type": "text", "align": "left", "baseline": "alphabetic", "font": "Liberation Sans", "fontSize": 10.5, "color": "#000000"},
          "encoding": {"x": {"field": "i", "type": "quantitative", "title": null}, "y": {"field": "p", "type": "quantitative", "title": null}, "text": {"field": "t"}}
        },
        {
          "data": {"name": "hdrIndx"},
          "mark": {"type": "text", "align": "left", "baseline": "alphabetic", "font": "Liberation Sans", "fontSize": 9, "color": "#000000"},
          "encoding": {"x": {"field": "i", "type": "quantitative", "title": null}, "y": {"field": "p", "type": "quantitative", "title": null}, "text": {"field": "t"}}
        },
        {
          "data": {"name": "hdrDate"},
          "mark": {"type": "text", "align": "left", "baseline": "alphabetic", "font": "Liberation Sans", "fontSize": 10.5, "color": "#000000"},
          "encoding": {"x": {"field": "i", "type": "quantitative", "title": null}, "y": {"field": "p", "type": "quantitative", "title": null}, "text": {"field": "t"}}
        },
        {
          "data": {"name": "hdrCopy"},
          "mark": {"type": "text", "align": "right", "baseline": "alphabetic", "font": "Liberation Sans", "fontSize": 10.5, "color": "#555555"},
          "encoding": {"x": {"field": "i", "type": "quantitative", "title": null}, "y": {"field": "p", "type": "quantitative", "title": null}, "text": {"field": "t"}}
        },
        {
          "data": {"name": "hdrLab"},
          "mark": {"type": "text", "align": "left", "baseline": "alphabetic", "font": "Liberation Sans", "fontWeight": "bold", "fontSize": 11, "color": "#000000"},
          "encoding": {"x": {"field": "i", "type": "quantitative", "title": null}, "y": {"field": "p", "type": "quantitative", "title": null}, "text": {"field": "t"}}
        },
        {
          "data": {"name": "hdrVal"},
          "mark": {"type": "text", "align": "left", "baseline": "alphabetic", "font": "Liberation Sans", "fontSize": 11, "color": "#000000"},
          "encoding": {"x": {"field": "i", "type": "quantitative", "title": null}, "y": {"field": "p", "type": "quantitative", "title": null}, "text": {"field": "t"}}
        },
        {
          "data": {"name": "hdrTri"},
          "mark": {"type": "text", "align": "center", "baseline": "alphabetic", "font": "DejaVu Sans", "fontSize": 7, "color": "#2e8b2e"},
          "encoding": {"x": {"field": "i", "type": "quantitative", "title": null}, "y": {"field": "p", "type": "quantitative", "title": null}, "text": {"field": "t"}}
        }
      ]
    },
    {
      "spacing": 1,
      "bounds": "flush",
      "vconcat": [
        {
          "width": 645,
          "height": 98,
          "layer": [
            {
              "data": {"name": "hist"},
              "mark": {"type": "bar", "size": 2.4, "fill": "#5d9bd3", "stroke": "#2a5d8c", "strokeWidth": 0.6},
              "encoding": {
                "x": {"field": "i", "type": "quantitative", "title": null, "scale": {"domain": [0, 215.7], "nice": false, "zero": false},
                  "axis": {"values": [0,20,42,63,84,106,127,148,171,192,213], "labels": false, "grid": true}},
                "y": {"field": "hg", "type": "quantitative", "title": null, "scale": {"domain": [-1.444, 1.226], "nice": false, "zero": false},
                  "axis": {"orient": "right", "values": [-1, -0.5, 0, 0.5, 1], "tickCount": 6, "grid": true, "labelPadding": 4, "labelFontSize": 10, "labelOverlap": false, "labelFlush": false, "labelExpr": "replace(format(datum.value, '.1f'), '−', '-')"}},
                "y2": {"datum": 0}
              }
            },
            {
              "data": {"name": "sig"},
              "mark": {"type": "line", "color": "#ff0000", "strokeWidth": 1, "interpolate": "monotone"},
              "encoding": {"x": {"field": "i", "type": "quantitative", "title": null}, "y": {"field": "s", "type": "quantitative", "title": null}}
            },
            {
              "data": {"name": "macd"},
              "mark": {"type": "line", "color": "#000000", "strokeWidth": 2, "interpolate": "monotone"},
              "encoding": {"x": {"field": "i", "type": "quantitative", "title": null}, "y": {"field": "m", "type": "quantitative", "title": null}}
            },
            {
              "data": {"name": "mlegDash"},
              "mark": {"type": "text", "align": "left", "baseline": "alphabetic", "font": "DejaVu Sans", "fontSize": 11, "color": "#000000"},
              "encoding": {"x": {"field": "i", "type": "quantitative", "title": null}, "y": {"field": "m", "type": "quantitative", "title": null}, "text": {"field": "t"}}
            },
            {
              "data": {"name": "mlegA"},
              "mark": {"type": "text", "align": "left", "baseline": "alphabetic", "font": "DejaVu Sans", "fontSize": 11, "color": "#000000"},
              "encoding": {"x": {"field": "i", "type": "quantitative", "title": null}, "y": {"field": "m", "type": "quantitative", "title": null}, "text": {"field": "t"}}
            },
            {
              "data": {"name": "mlegB"},
              "mark": {"type": "text", "align": "left", "baseline": "alphabetic", "font": "DejaVu Sans", "fontSize": 11, "color": "#ff0000"},
              "encoding": {"x": {"field": "i", "type": "quantitative", "title": null}, "y": {"field": "m", "type": "quantitative", "title": null}, "text": {"field": "t"}}
            },
            {
              "data": {"name": "mlegC"},
              "mark": {"type": "text", "align": "left", "baseline": "alphabetic", "font": "DejaVu Sans", "fontSize": 11, "color": "#3a8fd0"},
              "encoding": {"x": {"field": "i", "type": "quantitative", "title": null}, "y": {"field": "m", "type": "quantitative", "title": null}, "text": {"field": "t"}}
            },
            {
              "data": {"name": "mnotes"},
              "mark": {"type": "text", "align": "left", "baseline": "alphabetic", "font": "Liberation Sans", "fontWeight": "bold", "fontSize": 11.5, "color": "#1414d4"},
              "encoding": {"x": {"field": "i", "type": "quantitative", "title": null}, "y": {"field": "m", "type": "quantitative", "title": null}, "text": {"field": "t"}}
            },
            {
              "data": {"name": "marr"},
              "mark": {"type": "point", "shape": "M0,-1L0.9,0L0.4,0L0.4,1L-0.4,1L-0.4,0L-0.9,0Z", "size": 200, "filled": true, "color": "#1212e6", "opacity": 1},
              "encoding": {"x": {"field": "i", "type": "quantitative", "title": null}, "y": {"field": "m", "type": "quantitative", "title": null}}
            }
          ]
        },
        {
          "width": 645,
          "height": 96,
          "layer": [
            {
              "data": {"name": "rsi"},
              "transform": [{"calculate": "max(datum.r, 70)", "as": "hi"}],
              "mark": {"type": "area", "color": "#6f9a6f", "opacity": 1},
              "encoding": {
                "x": {"field": "i", "type": "quantitative", "title": null, "scale": {"domain": [0, 215.7], "nice": false, "zero": false},
                  "axis": {"values": [0,20,42,63,84,106,127,148,171,192,213], "labelExpr": "['Mar','Apr','May','Jun','Jul','Aug','Sep','Oct','Nov','Dec','2009'][indexof([0,20,42,63,84,106,127,148,171,192,213], datum.value)]", "grid": true, "labelPadding": 3, "labelFlush": false, "labelOverlap": false, "labelFontSize": 9.5, "labelFontWeight": {"condition": {"test": "datum.value == 213", "value": "bold"}, "value": "normal"}}},
                "y": {"field": "hi", "type": "quantitative", "title": null, "scale": {"domain": [-9.2, 108.4], "nice": false, "zero": false},
                  "axis": {"orient": "right", "values": [-3.333,3.333,10,16.667,23.333,30,36.667,43.333,50,56.667,63.333,70,76.667,83.333,90,96.667,103.333], "tickCount": 18, "grid": true, "labelPadding": 4, "labelFontSize": 10, "labelOverlap": false, "labelFlush": false, "labelExpr": "indexof([10,30,50,70,90], datum.value) >= 0 ? datum.label : ''"}},
                "y2": {"datum": 70}
              }
            },
            {
              "data": {"name": "rsi"},
              "transform": [{"calculate": "min(datum.r, 30)", "as": "lo"}],
              "mark": {"type": "area", "color": "#a07670", "opacity": 1},
              "encoding": {"x": {"field": "i", "type": "quantitative", "title": null}, "y": {"field": "lo", "type": "quantitative", "title": null}, "y2": {"datum": 30}}
            },
            {
              "data": {"name": "rlev"},
              "mark": {"type": "rule", "color": "#777777", "strokeWidth": 1.2},
              "encoding": {"y": {"field": "v", "type": "quantitative", "title": null}}
            },
            {
              "data": {"name": "rmid"},
              "mark": {"type": "rule", "color": "#888888", "strokeWidth": 1, "strokeDash": [7, 3, 2, 3]},
              "encoding": {"y": {"field": "v", "type": "quantitative", "title": null}}
            },
            {
              "data": {"name": "rsi"},
              "mark": {"type": "line", "color": "#111111", "strokeWidth": 1},
              "encoding": {"x": {"field": "i", "type": "quantitative", "title": null}, "y": {"field": "r", "type": "quantitative", "title": null}}
            },
            {
              "data": {"name": "rlegIcon"},
              "mark": {"type": "text", "align": "left", "baseline": "alphabetic", "font": "DejaVu Sans", "fontSize": 8, "color": "#4d7a4d"},
              "encoding": {"x": {"field": "i", "type": "quantitative", "title": null}, "y": {"field": "r", "type": "quantitative", "title": null}, "text": {"field": "t"}}
            },
            {
              "data": {"name": "rleg"},
              "mark": {"type": "text", "align": "left", "baseline": "alphabetic", "font": "DejaVu Sans", "fontSize": 11, "color": "#000000"},
              "encoding": {"x": {"field": "i", "type": "quantitative", "title": null}, "y": {"field": "r", "type": "quantitative", "title": null}, "text": {"field": "t"}}
            },
            {
              "data": {"name": "rnotes"},
              "mark": {"type": "text", "align": "left", "baseline": "alphabetic", "font": "Liberation Sans", "fontWeight": "bold", "fontSize": 11.5, "color": "#1414d4"},
              "encoding": {"x": {"field": "i", "type": "quantitative", "title": null}, "y": {"field": "r", "type": "quantitative", "title": null}, "text": {"field": "t"}}
            }
          ]
        }
      ]
    }
  ]
}
